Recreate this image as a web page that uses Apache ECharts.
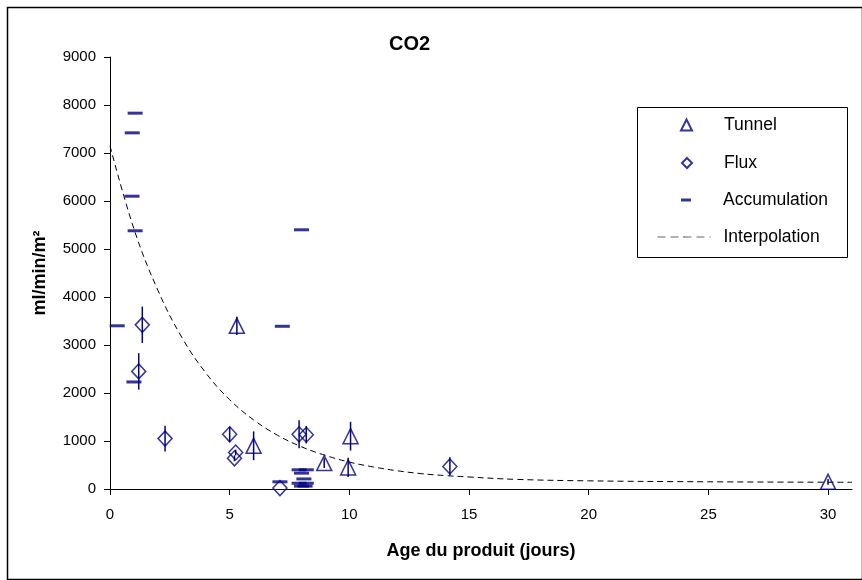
<!DOCTYPE html>
<html><head><meta charset="utf-8">
<script src="https://cdn.jsdelivr.net/npm/echarts@6/dist/echarts.min.js"></script>
<style>html,body{margin:0;padding:0;background:#fff}#c{width:862px;height:580px}</style>
</head><body><div id="c"></div>
<script>
// ---- data ----
const chartTitle = 'CO2';
const xTitle = 'Age du produit (jours)';
const yTitle = 'ml/min/m²';
const xTicks = [0, 5, 10, 15, 20, 25, 30];
const yTicks = [0, 1000, 2000, 3000, 4000, 5000, 6000, 7000, 8000, 9000];

const tunnelX   = [5.3, 6.0, 8.95, 9.95, 10.05, 30];
const tunnelY   = [3400, 900, 540, 450, 1100, 150];
const tunnelErr = [190, 300, 100, 200, 300, 60];

const fluxX   = [1.35, 1.2, 2.3, 5.0, 5.25, 5.2, 7.1, 7.9, 8.2, 14.2];
const fluxY   = [3420, 2450, 1050, 1140, 760, 640, 20, 1140, 1130, 470];
const fluxErr = [380, 380, 270, 160, 60, 60, 0, 290, 180, 190];

const accX = [1.05, 0.93, 0.92, 1.05, 0.3, 1.0, 8.0, 7.2, 7.1, 7.9, 8.2, 8.0, 8.1, 7.9, 8.2, 8.0, 8.15];
const accY = [7830, 7420, 6100, 5380, 3400, 2230, 5400, 3390, 150, 400, 400, 330, 210, 120, 120, 60, 60];

const interpX = [0, 1, 2, 3, 4, 5, 6, 7, 8, 9, 10, 11, 12, 13, 14, 15, 17, 20, 25, 31];
const interpY = [7150, 5420, 4140, 3160, 2420, 1860, 1440, 1120, 880, 700, 560, 460, 380, 320, 280, 250, 200, 170, 150, 140];

// ---- build ----
const F = 'Liberation Sans, Arial, sans-serif';
const NAVY = '#000080';
const zip = (a, b) => a.map((v, i) => [v, b[i]]);
const zip3 = (a, b, c) => a.map((v, i) => [v, b[i], c[i]]);

function errRender(params, api) {
  const x = api.value(0), y = api.value(1), e = api.value(2);
  if (!e) return null;
  const p1 = api.coord([x, y + e]);
  const p2 = api.coord([x, y - e]);
  return { type: 'line', shape: { x1: p1[0], y1: p1[1], x2: p2[0], y2: p2[1] },
           style: { stroke: NAVY, lineWidth: 1.5 } };
}

const legendText = (pad) => ({ fontFamily: F, fontSize: 17.5, color: '#000', padding: [0, 0, 0, pad] });
const legendBase = { orient: 'vertical', padding: 0, selectedMode: false };

const chart = echarts.init(document.getElementById('c'), null, { renderer: 'canvas' });
chart.setOption({
  animation: false,
  backgroundColor: '#fff',
  title: { text: chartTitle, left: 389, top: 34, padding: 0,
           textStyle: { fontFamily: F, fontSize: 20, fontWeight: 'bold', color: '#000' } },
  grid: { left: 110, right: 10, top: 57, bottom: 91, containLabel: false },
  xAxis: {
    type: 'value', min: 0, max: 31, interval: 5,
    name: xTitle, nameLocation: 'middle', nameGap: 53,
    nameTextStyle: { fontFamily: F, fontSize: 18, fontWeight: 'bold', color: '#000' },
    axisLine: { onZero: false, lineStyle: { color: '#000', width: 1 } },
    axisTick: { customValues: xTicks, inside: false, length: 6, lineStyle: { color: '#000' } },
    axisLabel: { customValues: xTicks, margin: 18, fontFamily: F, fontSize: 15, color: '#000' },
    splitLine: { show: false }
  },
  yAxis: {
    type: 'value', min: 0, max: 9000, interval: 1000,
    name: yTitle, nameLocation: 'middle', nameGap: 61, nameRotate: 90,
    nameTextStyle: { fontFamily: F, fontSize: 18, fontWeight: 'bold', color: '#000' },
    axisLine: { show: true, lineStyle: { color: '#000', width: 1 } },
    axisTick: { show: true, customValues: yTicks, length: 6, lineStyle: { color: '#000' } },
    axisLabel: { customValues: yTicks, margin: 14, fontFamily: F, fontSize: 15, color: '#000',
                 formatter: (v) => String(v) },
    splitLine: { show: false }
  },
  legend: [
    Object.assign({}, legendBase, { left: 680, top: 116, itemWidth: 11, itemHeight: 11,
      data: ['Tunnel'], textStyle: legendText(27) }),
    Object.assign({}, legendBase, { left: 681, top: 154, itemWidth: 10, itemHeight: 10,
      data: ['Flux'], textStyle: legendText(27) }),
    Object.assign({}, legendBase, { left: 681, top: 191, itemWidth: 10, itemHeight: 3,
      data: ['Accumulation'], textStyle: legendText(27) }),
    Object.assign({}, legendBase, { left: 657, top: 228, itemWidth: 53, itemHeight: 2,
      lineStyle: { type: [8, 5], color: '#666', width: 1 },
      data: ['Interpolation'], textStyle: legendText(8) })
  ],
  graphic: [
    { type: 'rect', left: 5, top: 5, shape: { x: 0, y: 0, width: 855, height: 572 },
      style: { fill: 'none', stroke: '#000', lineWidth: 1.5 }, silent: true, z: -1 },
    { type: 'rect', shape: { x: 637.5, y: 107.5, width: 210, height: 150 },
      style: { fill: 'none', stroke: '#000', lineWidth: 1 }, silent: true }
  ],
  series: [
    { name: 'Interpolation', type: 'line', data: zip(interpX, interpY), smooth: 0.4,
      symbol: 'none', lineStyle: { color: '#000', width: 1, type: [6, 4] }, z: 1 },
    { name: 'tunnelErr', type: 'custom', data: zip3(tunnelX, tunnelY, tunnelErr),
      renderItem: errRender, z: 2 },
    { name: 'fluxErr', type: 'custom', data: zip3(fluxX, fluxY, fluxErr),
      renderItem: errRender, z: 2 },
    { name: 'Tunnel', type: 'scatter', data: zip(tunnelX, tunnelY), symbol: 'triangle',
      symbolSize: [15, 15],
      itemStyle: { color: 'rgba(0,0,0,0)', borderColor: NAVY, borderWidth: 1.5 }, z: 3 },
    { name: 'Flux', type: 'scatter', data: zip(fluxX, fluxY), symbol: 'diamond',
      symbolSize: [14, 15],
      itemStyle: { color: 'rgba(0,0,0,0)', borderColor: NAVY, borderWidth: 1.5 }, z: 3 },
    { name: 'Accumulation', type: 'scatter', data: zip(accX, accY), symbol: 'rect',
      symbolSize: [15, 3], itemStyle: { color: NAVY }, z: 3 }
  ]
});
</script>
</body></html>
